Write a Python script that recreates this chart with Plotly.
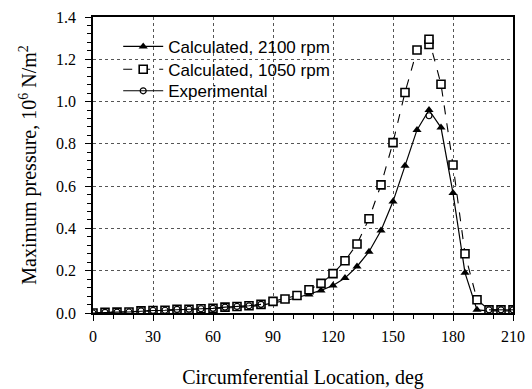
import plotly.graph_objects as go

# ---- data ----
angles = [0, 6, 12, 18, 24, 30, 36, 42, 48, 54, 60, 66, 72, 78, 84, 90, 96, 102, 108,
          114, 120, 126, 132, 138, 144, 150, 156, 162, 168, 174, 180, 186, 192, 198, 204, 210]

p2100 = [0.0, 0.002, 0.004, 0.005, 0.008, 0.010, 0.011, 0.014, 0.015, 0.017, 0.019, 0.023,
         0.026, 0.030, 0.036, 0.048, 0.058, 0.072, 0.088, 0.107, 0.130, 0.165, 0.220, 0.290,
         0.390, 0.527, 0.696, 0.866, 0.960, 0.877, 0.567, 0.190, 0.015, 0.010, 0.010, 0.010]

angles_1050 = [0, 6, 12, 18, 24, 30, 36, 42, 48, 54, 60, 66, 72, 78, 84, 90, 96, 102, 108,
               114, 120, 126, 132, 138, 144, 150, 156, 162, 168, 168, 174, 180, 186, 192,
               198, 204, 210]
p1050 = [0.0, 0.003, 0.004, 0.005, 0.010, 0.012, 0.013, 0.017, 0.018, 0.020, 0.022, 0.028,
         0.031, 0.034, 0.041, 0.055, 0.066, 0.083, 0.110, 0.140, 0.186, 0.247, 0.326, 0.446,
         0.606, 0.806, 1.043, 1.244, 1.270, 1.295, 1.082, 0.700, 0.280, 0.063, 0.015,
         0.015, 0.015]

angles_exp = [0, 6, 12, 18, 24, 30, 36, 42, 48, 54, 60, 66, 72, 78, 84, None, 168, None,
              198, 204, 210]
p_exp = [0.0, 0.003, 0.004, 0.005, 0.010, 0.012, 0.013, 0.017, 0.018, 0.020, 0.022, 0.028,
         0.031, 0.034, 0.041, None, 0.933, None, 0.015, 0.015, 0.015]

x_ticks = [0, 30, 60, 90, 120, 150, 180, 210]
y_ticks = [0.0, 0.2, 0.4, 0.6, 0.8, 1.0, 1.2, 1.4]
y_tick_labels = ["0.0", "0.2", "0.4", "0.6", "0.8", "1.0", "1.2", "1.4"]

names = ["Calculated, 2100 rpm", "Calculated, 1050 rpm", "Experimental"]

fig = go.Figure()
fig.add_trace(go.Scatter(
    x=angles, y=p2100, name=names[0], mode="lines+markers", legend="legend",
    line=dict(color="black", width=1.2),
    marker=dict(symbol="triangle-up", size=8, color="black"),
))
fig.add_trace(go.Scatter(
    x=angles_1050, y=p1050, name=names[1], mode="lines+markers", legend="legend2",
    line=dict(color="black", width=1.1, dash="dash"),
    marker=dict(symbol="square", size=8, color="white", line=dict(color="black", width=1.6)),
))
fig.add_trace(go.Scatter(
    x=angles_exp, y=p_exp, name=names[2], mode="lines+markers", connectgaps=False,
    legend="legend3",
    line=dict(color="black", width=1.1),
    marker=dict(symbol="circle-open", size=6, color="black", line=dict(width=1.2)),
))

serif = "Liberation Serif, Times New Roman, serif"
axis_common = dict(
    showline=True, linecolor="black", linewidth=1.5, mirror=True,
    ticks="outside", tickcolor="black", ticklen=6, tickwidth=1.2,
    showgrid=True, gridcolor="#555555", gridwidth=1, griddash="dot",
    zeroline=False, automargin=False,
    tickfont=dict(family=serif, size=16, color="black"),
)
fig.update_xaxes(
    range=[0, 210], tickvals=x_ticks, ticktext=[str(v) for v in x_ticks],
    title=dict(text="Circumferential Location, deg", font=dict(family=serif, size=20, color="black"), standoff=26),
    minor=dict(dtick=10, ticks="outside", ticklen=4, tickcolor="black", showgrid=False),
    ticklabelstandoff=2,
    **axis_common,
)
fig.update_yaxes(
    range=[0, 1.4], tickvals=y_ticks, ticktext=y_tick_labels,
    title=dict(text="Maximum pressure, 10<sup>6</sup> N/m<sup>2</sup>",
               font=dict(family=serif, size=20, color="black"), standoff=14),
    minor=dict(dtick=0.04, ticks="outside", ticklen=4, tickcolor="black", showgrid=False),
    ticklabelstandoff=6,
    **axis_common,
)

leg_common = dict(
    x=0.06, xanchor="left", yanchor="top",
    bgcolor="rgba(0,0,0,0)", borderwidth=0,
    font=dict(family="Liberation Sans, Arial, sans-serif", size=17, color="black"),
    itemwidth=40,
)
fig.update_layout(
    width=532, height=389,
    margin=dict(l=93, r=19, t=17, b=76),
    plot_bgcolor="white", paper_bgcolor="white",
    showlegend=True,
    legend=dict(y=0.960, **leg_common),
    legend2=dict(y=0.883, **leg_common),
    legend3=dict(y=0.810, **leg_common),
)

fig.write_html("out.html")
